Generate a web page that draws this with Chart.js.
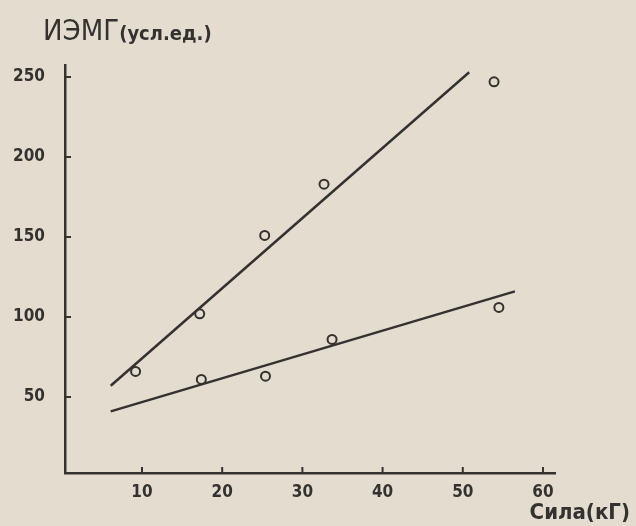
<!DOCTYPE html>
<html>
<head>
<meta charset="utf-8">
<script src="https://cdn.jsdelivr.net/npm/chart.js@4.4.1/dist/chart.umd.min.js"></script>
<style>
  body { margin: 0; background: #e4ddcf; }
  #wrap { width: 636px; height: 526px; }
</style>
</head>
<body>
<div id="wrap"><canvas id="chart" width="636" height="526"></canvas></div>
<script>
// measured points (upper and lower series)
const upperX = [9.2, 17.2, 25.3, 32.7, 53.9];
const upperY = [66, 102, 151, 183, 247];
const lowerX = [17.4, 25.4, 33.7, 54.5];
const lowerY = [61, 63, 86, 106];

// fitted lines, end points
const upperLineX = [6.1, 50.8];
const upperLineY = [57, 253];
const lowerLineX = [6.1, 56.5];
const lowerLineY = [41, 116];

const xTicks = [10, 20, 30, 40, 50, 60];
const yTicks = [50, 100, 150, 200, 250];

const ink = "#343230";

function pts(xs, ys) {
  return xs.map((x, i) => ({ x: x, y: ys[i] }));
}

// labels and inward tick marks
const extras = {
  id: "extras",
  afterDraw(chart) {
    const ctx = chart.ctx;
    const xs = chart.scales.x, ys = chart.scales.y;
    ctx.save();
    ctx.strokeStyle = ink;
    ctx.lineWidth = 2;
    xTicks.forEach(v => {
      const px = xs.getPixelForValue(v);
      ctx.beginPath();
      ctx.moveTo(px, xs.top);
      ctx.lineTo(px, xs.top - 6);
      ctx.stroke();
    });
    yTicks.forEach(v => {
      const py = ys.getPixelForValue(v);
      ctx.beginPath();
      ctx.moveTo(ys.right, py);
      ctx.lineTo(ys.right + 6, py);
      ctx.stroke();
    });
    ctx.fillStyle = ink;
    ctx.textBaseline = "alphabetic";
    ctx.textAlign = "left";
    ctx.font = "29px 'DejaVu Sans Condensed'";
    ctx.fillText("ИЭМГ", 43, 40);
    const w = ctx.measureText("ИЭМГ").width;
    ctx.font = "bold 20px 'DejaVu Sans Condensed'";
    ctx.fillText("(усл.ед.)", 43 + w, 40);
    ctx.font = "bold 22px 'DejaVu Sans Condensed'";
    ctx.textAlign = "right";
    ctx.fillText("Сила(кГ)", 630, 519);
    ctx.restore();
  }
};

new Chart(document.getElementById("chart"), {
  type: "scatter",
  data: {
    datasets: [
      {
        data: pts(upperX, upperY),
        pointRadius: 4.5,
        pointBorderWidth: 2,
        pointBorderColor: ink,
        pointBackgroundColor: "rgba(0,0,0,0)"
      },
      {
        data: pts(lowerX, lowerY),
        pointRadius: 4.5,
        pointBorderWidth: 2,
        pointBorderColor: ink,
        pointBackgroundColor: "rgba(0,0,0,0)"
      },
      {
        data: pts(upperLineX, upperLineY),
        showLine: true,
        borderColor: ink,
        borderWidth: 2.5,
        pointRadius: 0
      },
      {
        data: pts(lowerLineX, lowerLineY),
        showLine: true,
        borderColor: ink,
        borderWidth: 2.5,
        pointRadius: 0
      }
    ]
  },
  options: {
    responsive: false,
    animation: false,
    layout: { padding: { top: 65, right: 81, left: 0, bottom: 0 } },
    plugins: { legend: { display: false }, tooltip: { enabled: false } },
    scales: {
      x: {
        type: "linear",
        min: 0.4,
        max: 61.5,
        afterBuildTicks: s => { s.ticks = xTicks.map(v => ({ value: v })); },
        afterFit: s => { s.height = 53; },
        grid: { display: false, drawTicks: false },
        border: { display: true, color: ink, width: 2.5 },
        ticks: {
          padding: 9,
          color: ink,
          font: { family: "'DejaVu Sans Condensed'", weight: "bold", size: 17 }
        }
      },
      y: {
        type: "linear",
        min: 2.5,
        max: 257.5,
        afterBuildTicks: s => { s.ticks = yTicks.map(v => ({ value: v })); },
        afterFit: s => { s.width = 65; },
        grid: { display: false, drawTicks: false },
        border: { display: true, color: ink, width: 2.5 },
        ticks: {
          padding: 20,
          color: ink,
          font: { family: "'DejaVu Sans Condensed'", weight: "bold", size: 17 }
        }
      }
    }
  },
  plugins: [extras]
});
</script>
</body>
</html>
